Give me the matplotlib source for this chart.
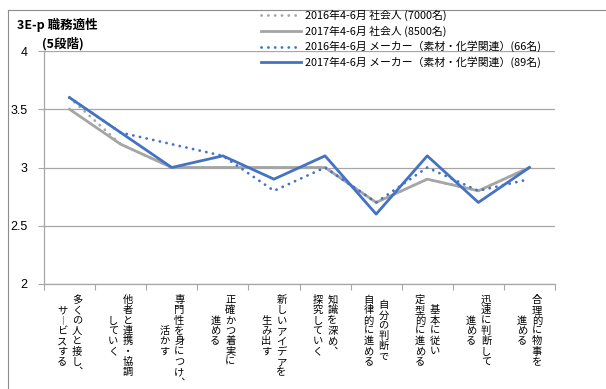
import numpy as np
import matplotlib
matplotlib.use("Agg")
import matplotlib.pyplot as plt
from matplotlib.lines import Line2D

plt.rcParams['font.family'] = ['Noto Sans CJK JP', 'DejaVu Sans']

# 項目名 (縦書き、右の列から読む)
categories = [
    ["多くの人と接し、", "サービスする"],
    ["他者と連携・協調", "していく"],
    ["専門性を身につけ、", "活かす"],
    ["正確かつ着実に", "進める"],
    ["新しいアイデアを", "生み出す"],
    ["知識を深め、", "探究していく"],
    ["自分の判断で", "自律的に進める"],
    ["基本に従い", "定型的に進める"],
    ["迅速に判断して", "進める"],
    ["合理的に物事を", "進める"],
]

series_labels = [
    "2016年4-6月 社会人 (7000名)",
    "2017年4-6月 社会人 (8500名)",
    "2016年4-6月 メーカー（素材・化学関連）(66名)",
    "2017年4-6月 メーカー（素材・化学関連）(89名)",
]
shakaijin_2016 = [3.6, 3.2, 3.0, 3.0, 3.0, 3.0, 2.7, 2.9, 2.8, 3.0]
shakaijin_2017 = [3.5, 3.2, 3.0, 3.0, 3.0, 3.0, 2.7, 2.9, 2.8, 3.0]
maker_2016 = [3.6, 3.3, 3.2, 3.1, 2.8, 3.0, 2.7, 3.0, 2.8, 2.9]
maker_2017 = [3.6, 3.3, 3.0, 3.1, 2.9, 3.1, 2.6, 3.1, 2.7, 3.0]

yticks = [2, 2.5, 3, 3.5, 4]
ytick_labels = ["2", "2.5", "3", "3.5", "4"]

BLUE = "#4472C4"
GRAY = "#A5A5A5"
W, H = 606, 389

fig = plt.figure(figsize=(W / 100, H / 100), dpi=100)
ax = fig.add_axes([44 / W, 1 - 284 / H, (555 - 44) / W, (284 - 51) / H])

x = np.arange(len(categories))
dot = (0, (0.05, 2.4))
ax.plot(x, shakaijin_2016, color=GRAY, lw=2.0, ls=dot, dash_capstyle="round",
        label=series_labels[0], zorder=3)
ax.plot(x, shakaijin_2017, color=GRAY, lw=2.0, label=series_labels[1], zorder=4)
ax.plot(x, maker_2016, color=BLUE, lw=2.0, ls=dot, dash_capstyle="round",
        label=series_labels[2], zorder=5)
ax.plot(x, maker_2017, color=BLUE, lw=2.0, label=series_labels[3], zorder=6)

ax.set_xlim(-0.5, len(categories) - 0.5)
ax.set_ylim(2, 4)
ax.set_yticks(yticks)
ax.set_yticklabels(ytick_labels, fontsize=9, family="Liberation Sans")
ax.set_xticks(np.arange(-0.5, len(categories), 1))
ax.set_xticklabels([])
ax.tick_params(axis="both", direction="out", length=4, color="#A6A6A6", width=0.8)
ax.tick_params(axis="y", pad=8)
ax.yaxis.grid(True, color="#A6A6A6", lw=0.9)
ax.set_axisbelow(True)
for side in ("top", "right"):
    ax.spines[side].set_visible(False)
for side in ("left", "bottom"):
    ax.spines[side].set_color("#A6A6A6")
    ax.spines[side].set_linewidth(0.9)

# 縦書きの項目ラベル
vert = {"、": "︑", "ー": "︱"}
pitch = 10.3   # 1文字の送り (px)
colgap = 15.0  # 列の間隔 (px)
for i, cols in enumerate(categories):
    maxlen = max(len(c) for c in cols)
    ncol = len(cols)
    for j, col in enumerate(cols):
        dx = ((ncol - 1) / 2 - j) * colgap
        for k, ch in enumerate(col):
            dy = -(16 + ((maxlen - len(col)) / 2 + k) * pitch)
            ax.annotate(vert.get(ch, ch), xy=(i, 0), xycoords=("data", "axes fraction"),
                        xytext=(dx * 0.72, dy * 0.72), textcoords="offset points",
                        ha="center", va="center", fontsize=7.4, annotation_clip=False)

fig.text(17 / W, 1 - 25 / H, "3E-p 職務適性", fontsize=9, fontweight="bold", va="center")
fig.text(42 / W, 1 - 44 / H, "(5段階)", fontsize=9, fontweight="bold", va="center")

fig.legend(loc="upper left", bbox_to_anchor=(261 / W, 1 - 10 / H), frameon=False,
           fontsize=7.8, handlelength=3.7, handletextpad=0.35, labelspacing=0.38,
           borderpad=0, borderaxespad=0)

# 外枠
fig.add_artist(Line2D([8 / W, 1], [1 - 10 / H, 1 - 10 / H], transform=fig.transFigure,
                      color="#8C8C8C", lw=0.8))
fig.add_artist(Line2D([8 / W, 8 / W], [0, 1 - 10 / H], transform=fig.transFigure,
                      color="#8C8C8C", lw=0.8))

fig.savefig("out.png", dpi=100, facecolor="white")
